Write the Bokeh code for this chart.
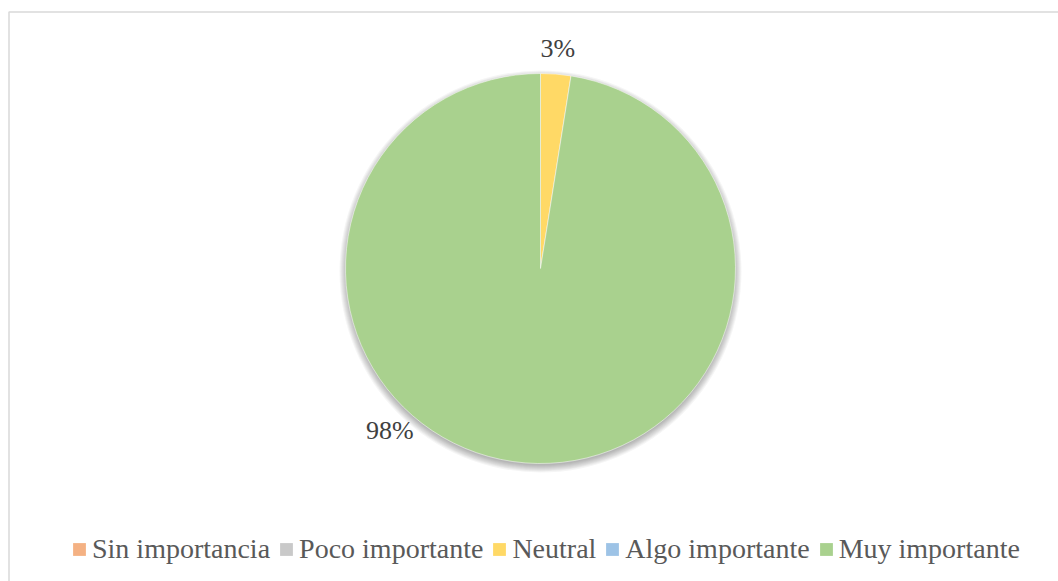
import math
from bokeh.plotting import figure
from bokeh.models import Range1d, Legend, LegendItem, ColumnDataSource
from bokeh.core.properties import value
from bokeh.embed import file_html
from bokeh.resources import INLINE

# ---- data ----
categories = ["Sin importancia", "Poco importante", "Neutral", "Algo importante", "Muy importante"]
counts = [0, 0, 1, 0, 39]
colors = ["#F4B183", "#C9C9C9", "#FFD966", "#9DC3E6", "#A9D18E"]

# ---- layout ----
W, H = 1058, 581
CX, CY, R = 540, H - 268, 195
LABEL_R = 221
# label direction override (degrees, math convention); None = slice middle
label_dir = {"Neutral": None, "Muy importante": -133}
FONT = "Liberation Serif"

p = figure(width=W, height=H, output_backend="svg", toolbar_location=None,
           x_range=Range1d(0, W), y_range=Range1d(0, H),
           min_border=0, x_axis_location=None, y_axis_location=None,
           outline_line_color=None, background_fill_color="white",
           border_fill_color="white")
p.xgrid.visible = False
p.ygrid.visible = False

# chart border (extends past right / bottom edges)
p.line(x=[8.5, 8.5, W + 10], y=[-10, H - 11.5, H - 11.5], line_color="#D9D9D9", line_width=1.5)

# soft shadow
for i in range(8):
    p.circle(x=[CX], y=[CY - 3], radius=R - 1 + i, fill_color="black",
             fill_alpha=0.04, line_color=None)

total = sum(counts)
start = math.pi / 2
starts, ends, cols, mids = [], [], [], []
for c, v, col in zip(categories, counts, colors):
    frac = v / total
    end = start - frac * 2 * math.pi
    if v > 0:
        starts.append(start)
        ends.append(end)
        cols.append(col)
    mids.append((start + end) / 2)
    start = end

src = ColumnDataSource(dict(start=starts, end=ends, color=cols))
p.wedge(x=CX, y=CY, radius=R, start_angle="start", end_angle="end",
        direction="clock", fill_color="color", line_color="white", line_width=0.5,
        source=src)

# data labels
lx, ly, lt = [], [], []
for c, v, m in zip(categories, counts, mids):
    if v == 0:
        continue
    d = label_dir.get(c)
    ang = m if d is None else math.radians(d)
    lx.append(CX + LABEL_R * math.cos(ang))
    ly.append(CY + LABEL_R * math.sin(ang))
    lt.append(f"{int(v / total * 100 + 0.5)}%")
p.text(x=lx, y=ly, text=lt, text_align="center", text_baseline="middle",
       text_font=value(FONT), text_font_size="26px", text_color="#404040")

# legend
items = []
nan = float("nan")
for c, col in zip(categories, colors):
    r = p.rect(x=[nan], y=[nan], width=1, height=1, fill_color=col, line_color=None)
    items.append(LegendItem(label=c, renderers=[r], index=0))
legend = Legend(items=items, orientation="horizontal", location=(71, 16),
                label_text_font=FONT, label_text_font_size="28px",
                label_text_color="#595959", glyph_width=16, glyph_height=16,
                label_standoff=5, spacing=8, padding=0, margin=0,
                border_line_color=None, background_fill_alpha=0)
p.add_layout(legend, "center")

open("out.html", "w").write(file_html(p, INLINE))
